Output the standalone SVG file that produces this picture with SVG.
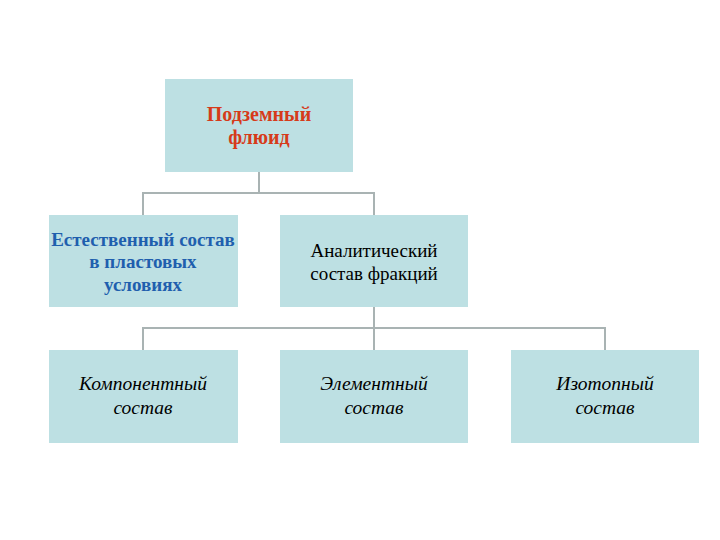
<svg xmlns="http://www.w3.org/2000/svg" width="720" height="540" viewBox="0 0 720 540">
<style>
.box{fill:#bde0e3}
.t{font-family:"Liberation Serif","Times New Roman",serif;font-size:19px;text-anchor:middle;fill:#000}
.red{fill:#d63b1a;font-weight:bold;font-size:20px}
.blue{fill:#1f5fae;font-weight:bold}
.it{font-style:italic;font-size:19.5px}
.c{fill:none;stroke:#a9b3b3;stroke-width:2}
</style>
<rect width="720" height="540" fill="#fff"/>
<g id="connectors">
<path class="c" d="M259 172V193M143 215V193H374V215"/>
<path class="c" d="M374 307V328M143 350V328H605V350M374 328V350"/>
</g>
<g id="n1"><rect class="box" x="165" y="79" width="188" height="93"/>
<text class="t red" x="259" y="121">Подземный</text><text class="t red" x="259" y="144">флюид</text></g>
<g id="n2"><rect class="box" x="49" y="215" width="189" height="92"/>
<text class="t blue" x="143" y="246">Естественный состав</text><text class="t blue" x="143" y="268">в пластовых</text><text class="t blue" x="143" y="291">условиях</text></g>
<g id="n3"><rect class="box" x="280" y="215" width="188" height="92"/>
<text class="t" x="374" y="257">Аналитический</text><text class="t" x="374" y="280">состав фракций</text></g>
<g id="n4"><rect class="box" x="49" y="350" width="189" height="93"/>
<text class="t it" x="143" y="390">Компонентный</text><text class="t it" x="143" y="414">состав</text></g>
<g id="n5"><rect class="box" x="280" y="350" width="188" height="93"/>
<text class="t it" x="374" y="390">Элементный</text><text class="t it" x="374" y="414">состав</text></g>
<g id="n6"><rect class="box" x="511" y="350" width="188" height="93"/>
<text class="t it" x="605" y="390">Изотопный</text><text class="t it" x="605" y="414">состав</text></g>
</svg>
